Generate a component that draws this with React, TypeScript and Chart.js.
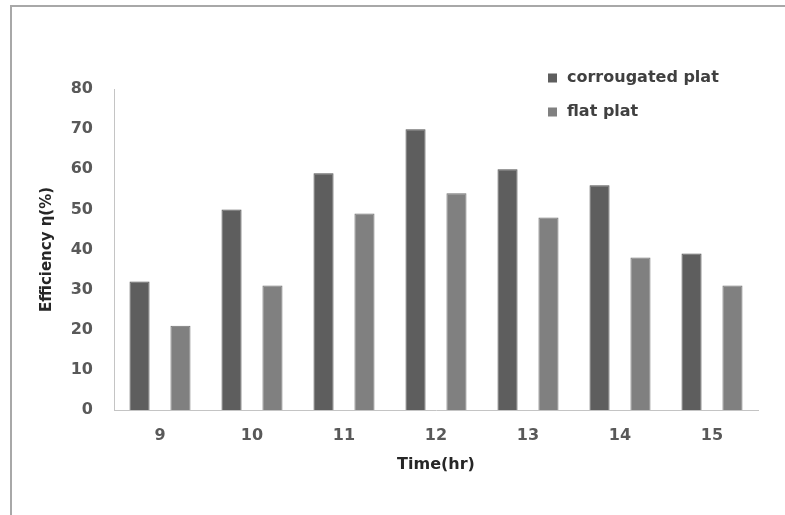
import { useEffect, useRef } from 'react';
import { Chart, registerables } from 'chart.js';

Chart.register(...registerables);

const hours = ['9', '10', '11', '12', '13', '14', '15'];
const corrugatedPlat = [32, 50, 59, 70, 60, 56, 39];
const flatPlat = [21, 31, 49, 54, 48, 38, 31];
const seriesNames = ['corrougated plat', 'flat plat'];
const seriesColors = ['#5e5e5e', '#808080'];
const seriesBorders = ['#505050', '#707070'];
const yMin = 0;
const yMax = 80;
const yStep = 10;
const xTitle = 'Time(hr)';
const yTitle = 'Efficiency η(%)';

const FONT = '"DejaVu Sans", "Noto Sans", sans-serif';

const framePlugin = {
  id: 'frame',
  beforeDraw(chart: any) {
    const ctx = chart.ctx;
    ctx.save();
    ctx.fillStyle = '#ffffff';
    ctx.fillRect(0, 0, chart.width, chart.height);
    ctx.strokeStyle = '#a8a8a8';
    ctx.lineWidth = 2;
    ctx.strokeRect(11, 6, chart.width + 20, chart.height + 20);
    ctx.restore();
  },
};

const floatLegendPlugin = {
  id: 'floatLegend',
  afterDraw(chart: any) {
    const ctx = chart.ctx;
    const ca = chart.chartArea;
    const x0 = ca.left + 434;
    const rows = [ca.top - 11, ca.top + 23];
    ctx.save();
    ctx.font = `bold 16px ${FONT}`;
    ctx.textBaseline = 'middle';
    ctx.textAlign = 'left';
    chart.data.datasets.forEach((ds: any, i: number) => {
      const y = rows[i];
      ctx.fillStyle = ds.backgroundColor;
      ctx.fillRect(x0, y - 4.5, 9, 9);
      ctx.fillStyle = '#404040';
      ctx.fillText(ds.label, x0 + 19, y);
    });
    ctx.restore();
  },
};

export default function App() {
  const canvasRef = useRef<HTMLCanvasElement | null>(null);

  useEffect(() => {
    if (!canvasRef.current) return;
    const chart = new Chart(canvasRef.current, {
      type: 'bar',
      data: {
        labels: hours,
        datasets: [
          {
            label: seriesNames[0],
            data: corrugatedPlat,
            backgroundColor: seriesColors[0],
            borderColor: seriesBorders[0],
            borderWidth: 1,
            categoryPercentage: 0.89,
            barPercentage: 0.49,
          },
          {
            label: seriesNames[1],
            data: flatPlat,
            backgroundColor: seriesColors[1],
            borderColor: seriesBorders[1],
            borderWidth: 1,
            categoryPercentage: 0.89,
            barPercentage: 0.49,
          },
        ],
      },
      options: {
        animation: false,
        responsive: true,
        maintainAspectRatio: false,
        layout: { padding: { left: 0, top: 89, right: 27, bottom: 0 } },
        plugins: {
          legend: { display: false },
          tooltip: { enabled: false },
        },
        scales: {
          x: {
            grid: { display: false, drawTicks: false },
            border: { display: true, color: '#c4c4c4', width: 1 },
            ticks: {
              padding: 16,
              color: '#595959',
              font: { family: FONT, size: 16, weight: 'bold' },
            },
            title: {
              display: true,
              text: xTitle,
              color: '#262626',
              font: { family: FONT, size: 16, weight: 'bold' },
              padding: { top: 0, bottom: 41 },
            },
            afterFit(scale: any) {
              scale.height = 105;
            },
          },
          y: {
            min: yMin,
            max: yMax,
            grid: { display: false, drawTicks: false },
            border: { display: true, color: '#c4c4c4', width: 1 },
            ticks: {
              stepSize: yStep,
              padding: 21,
              color: '#595959',
              font: { family: FONT, size: 16, weight: 'bold' },
            },
            title: {
              display: true,
              text: yTitle,
              color: '#262626',
              font: { family: FONT, size: 15, weight: 'bold' },
              padding: { top: 38, bottom: 0 },
            },
            afterFit(scale: any) {
              scale.width = 114;
            },
          },
        },
      },
      plugins: [framePlugin, floatLegendPlugin],
    } as any);
    return () => chart.destroy();
  }, []);

  return (
    <div style={{ position: 'absolute', left: 0, top: 0, width: 785, height: 515 }}>
      <canvas ref={canvasRef} />
    </div>
  );
}
